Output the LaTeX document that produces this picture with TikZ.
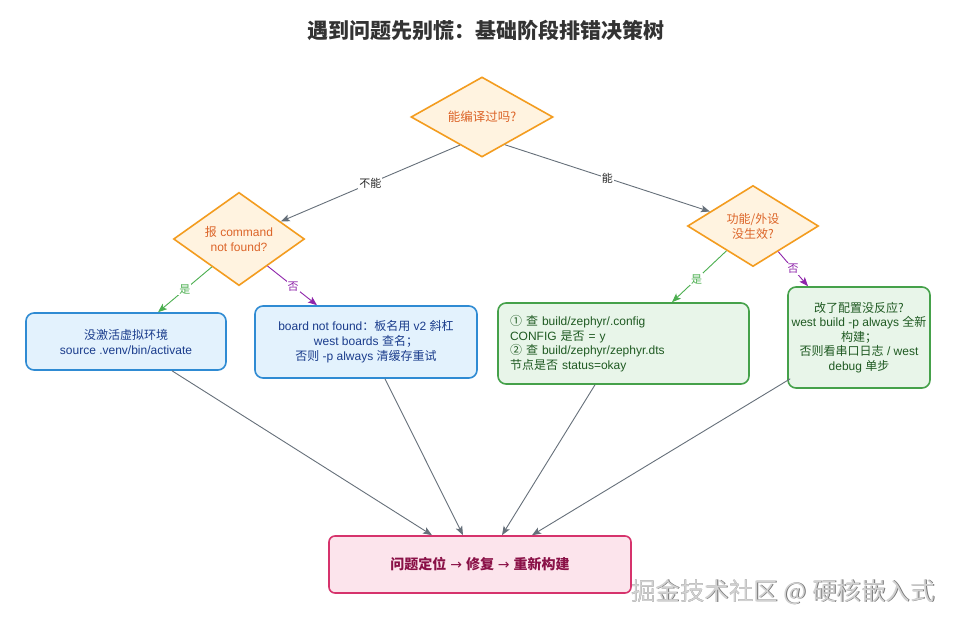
\documentclass[tikz,border=0pt]{standalone}
\usepackage{fontspec}
\setmainfont{Liberation Sans}
\newfontfamily\cjk{Noto Sans CJK SC}
\newfontfamily\arrowfont{DejaVu Sans}
\newcommand\zh[1]{{\cjk #1}}
\newcommand\rarr{{\arrowfont\mdseries →}}
\usetikzlibrary{shapes.geometric,arrows.meta,calc}
\definecolor{dfill}{HTML}{FFF3E0}
\definecolor{ddraw}{HTML}{F39C1F}
\definecolor{dtext}{HTML}{DC6428}
\definecolor{bfill}{HTML}{E3F2FD}
\definecolor{bdraw}{HTML}{2F8BD3}
\definecolor{btext}{HTML}{1A3C8C}
\definecolor{gfill}{HTML}{E8F5E9}
\definecolor{gdraw}{HTML}{45A14A}
\definecolor{gtext}{HTML}{1F5A22}
\definecolor{pfill}{HTML}{FCE4EC}
\definecolor{pdraw}{HTML}{D6336C}
\definecolor{ptext}{HTML}{8A1147}
\definecolor{egray}{HTML}{66707A}
\definecolor{egreen}{HTML}{4CAF50}
\definecolor{epurple}{HTML}{8E24AA}
\tikzset{
  dia/.style={diamond, draw=ddraw, fill=dfill, line width=1.6pt, inner sep=0pt,
    text=dtext, align=center, font=\fontsize{12.5}{15}\selectfont},
  bluebox/.style={rectangle, rounded corners=8pt, draw=bdraw, fill=bfill, line width=1.6pt,
    text=btext, align=center, font=\fontsize{12}{15}\selectfont},
  greenbox/.style={rectangle, rounded corners=8pt, draw=gdraw, fill=gfill, line width=1.6pt,
    text=gtext, font=\fontsize{12}{14.6}\selectfont},
  endbox/.style={rectangle, rounded corners=6pt, draw=pdraw, fill=pfill, line width=1.6pt,
    text=ptext, align=center, font=\fontsize{14}{17}\selectfont\bfseries},
  conn/.style={draw=egray, line width=0.9pt, -{Stealth[length=9pt,width=7pt,inset=2pt]}},
  yesconn/.style={draw=egreen, line width=0.9pt, -{Stealth[length=9pt,width=7pt,inset=2pt]}},
  noconn/.style={draw=epurple, line width=0.9pt, -{Stealth[length=9pt,width=7pt,inset=2pt]}},
  elabel/.style={fill=white, inner sep=1pt, font=\fontsize{11}{13}\selectfont\cjk},
  wmark/.style={font=\fontsize{24.5}{28}\selectfont\cjk},
}
\begin{document}
\begin{tikzpicture}[x=1pt,y=-1pt]
\useasboundingbox (0,0) rectangle (957,626);
\fill[white] (0,0) rectangle (957,626);

\node[font=\fontsize{21}{25}\selectfont\bfseries\cjk, text=black!80] (title) at (486,30) {遇到问题先别慌：基础阶段排错决策树};

\node[dia, minimum width=142pt, minimum height=80pt] (d0) at (482,117) {\zh{能编译过吗?}};
\node[dia, minimum width=131pt, minimum height=81pt, font=\fontsize{12}{15}\selectfont] (d1) at (239,239) {\zh{报} command\\not found?};
\node[dia, minimum width=131pt, minimum height=81pt, font=\fontsize{12}{15}\selectfont\cjk] (d2) at (753,226) {功能/外设\\没生效?};

\node[bluebox, minimum width=200pt, minimum height=57pt] (b1) at (126,341.5) {\zh{没激活虚拟环境}\\source .venv/bin/activate};
\node[bluebox, minimum width=222pt, minimum height=72pt] (b2) at (366,342) {board not found\zh{：板名用} v2 \zh{斜杠}\\west boards \zh{查名；}\\\zh{否则} -p always \zh{清缓存重试}};
\node[greenbox, minimum height=81pt, text width=227pt, inner xsep=12pt, align=left] (b3) at (623.5,343.5) {\zh{① 查} build/zephyr/.config\\CONFIG \zh{是否} = y\\\zh{② 查} build/zephyr/zephyr.dts\\\zh{节点是否} status=okay};
\node[greenbox, minimum width=142pt, minimum height=101pt, inner xsep=2pt, align=center] (b4) at (859,337.5) {\zh{改了配置没反应?}\\west build -p always \zh{全新}\\\zh{构建；}\\\zh{否则看串口日志} / west\\debug \zh{单步}};

\node[endbox, minimum width=302pt, minimum height=57pt] (end) at (480,564.5) {\zh{问题定位} \rarr{} \zh{修复} \rarr{} \zh{重新构建}};

% decision edges
\draw[conn] ($(d0.west)!0.69!(d0.south)$) -- node[elabel, text=black!85] {不能} ($(d1.north)!0.63!(d1.east)$);
\draw[conn] ($(d0.south)!0.32!(d0.east)$) -- node[elabel, text=black!85] {能} ($(d2.west)!0.35!(d2.north)$);
\draw[yesconn] ($(d1.west)!0.59!(d1.south)$) -- node[elabel, text=egreen, pos=0.5] {是} ($(b1.north)+(32,0)$);
\draw[noconn] ($(d1.south)!0.43!(d1.east)$) -- node[elabel, text=epurple, pos=0.52] {否} ($(b2.north)+(-49,0)$);
\draw[yesconn] ($(d2.west)!0.6!(d2.south)$) -- node[elabel, text=egreen, pos=0.55] {是} ($(b3.north)+(48.5,0)$);
\draw[noconn] ($(d2.south)!0.38!(d2.east)$) -- node[elabel, text=epurple, pos=0.5] {否} ($(b4.north)+(-51,0)$);

% to end
\draw[conn] ($(b1.south)+(46,0)$) -- ($(end.north)+(-48,0)$);
\draw[conn] ($(b2.south)+(19,0)$) -- ($(end.north)+(-17,0)$);
\draw[conn] ($(b3.south)+(-28.5,0)$) -- ($(end.north)+(22,0)$);
\draw[conn] ($(b4.south west)+(3,-10)$) -- ($(end.north)+(52,0)$);

% watermark
\node[wmark, text=black!55] (wms) at (783.7,592.7) {掘金技术社区 @ 硬核嵌入式};
\node[wmark, text=black!18] (wm) at (783,592) {掘金技术社区 @ 硬核嵌入式};
\end{tikzpicture}
\end{document}
